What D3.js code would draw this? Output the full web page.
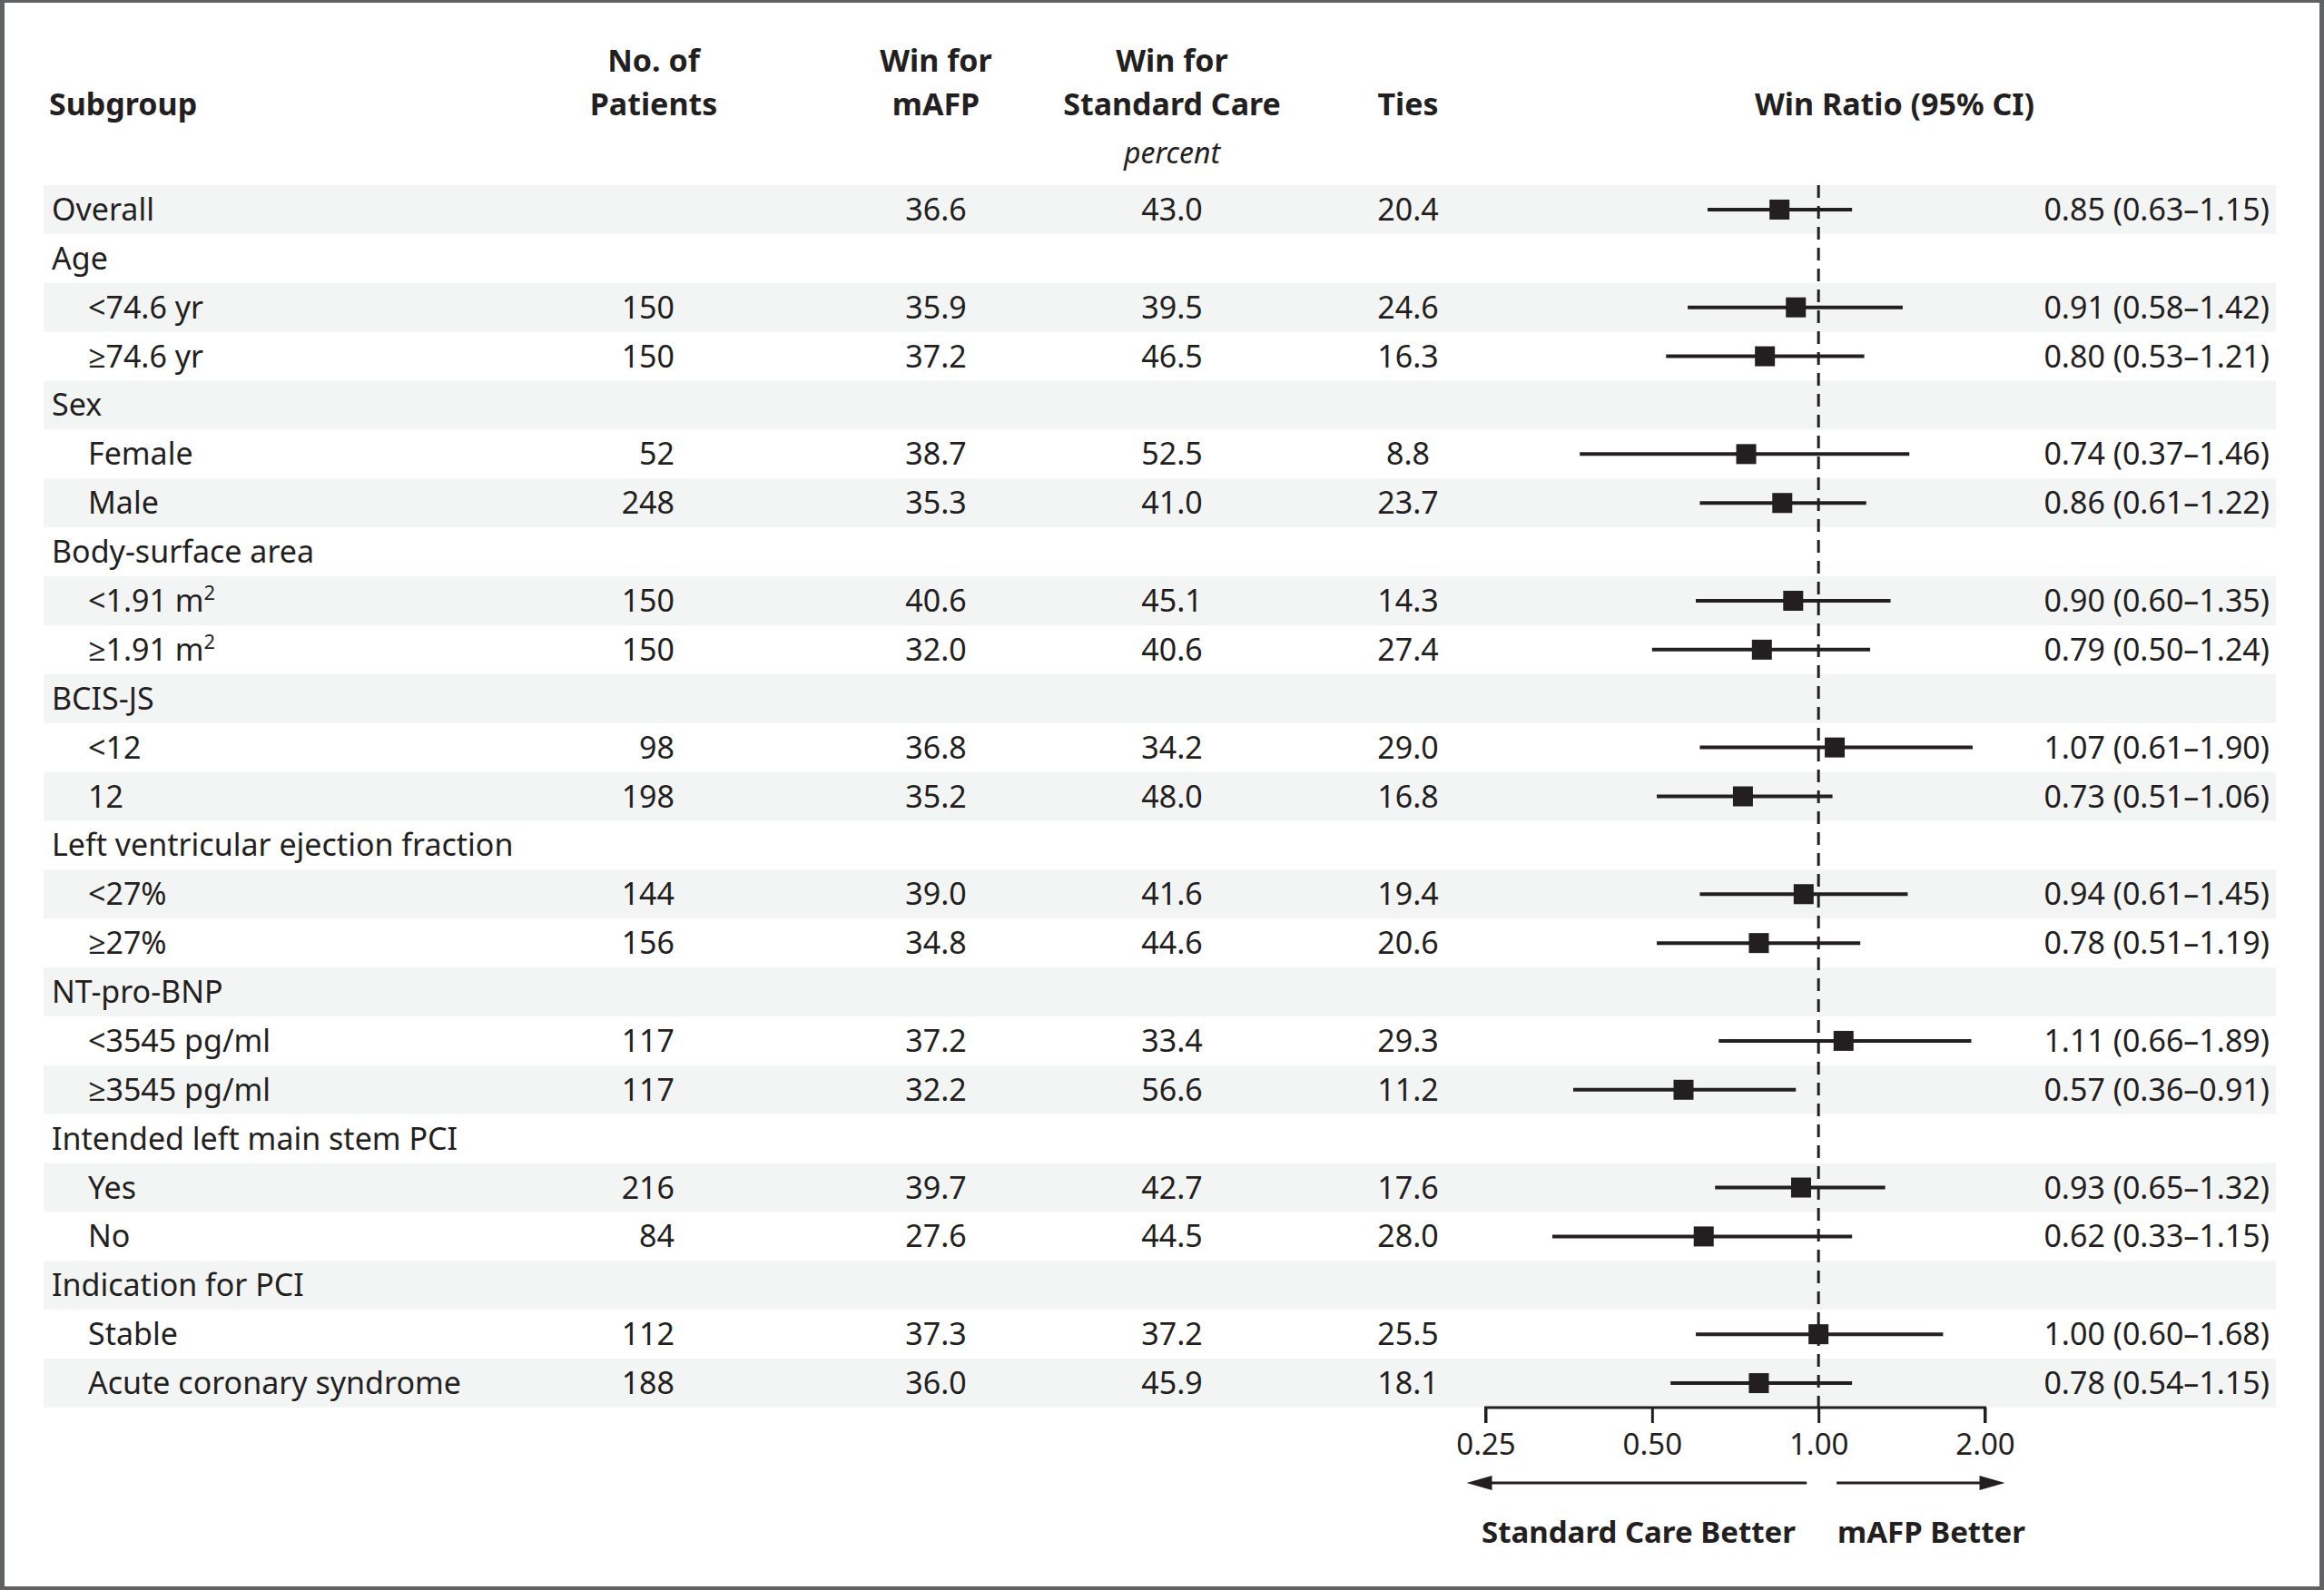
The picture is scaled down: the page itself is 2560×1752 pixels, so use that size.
<!DOCTYPE html>
<html>
<head>
<meta charset="utf-8">
<script src="https://cdn.jsdelivr.net/npm/d3@7"></script>
<style>
  html, body { margin: 0; padding: 0; background: #fff; }
  svg { display: block; }
  text { font-family: "Noto Sans", "Open Sans", sans-serif; fill: #231f20; }
</style>
</head>
<body>
<div id="chart"></div>
<script>
////////////////////////////////////////////////////////////
///////////////////////// Data /////////////////////////////
////////////////////////////////////////////////////////////

// level 0 = group heading, level 1 = indented subgroup
var labels = ["Overall", "Age", "<74.6 yr", "≥74.6 yr", "Sex", "Female", "Male",
  "Body-surface area", "<1.91 m^2", "≥1.91 m^2", "BCIS-JS", "<12", "12",
  "Left ventricular ejection fraction", "<27%", "≥27%", "NT-pro-BNP",
  "<3545 pg/ml", "≥3545 pg/ml", "Intended left main stem PCI", "Yes", "No",
  "Indication for PCI", "Stable", "Acute coronary syndrome"]
var levels = [0, 0, 1, 1, 0, 1, 1, 0, 1, 1, 0, 1, 1, 0, 1, 1, 0, 1, 1, 0, 1, 1, 0, 1, 1]

var patients = ["", "", "150", "150", "", "52", "248", "", "150", "150", "", "98", "198",
  "", "144", "156", "", "117", "117", "", "216", "84", "", "112", "188"]
var winMafp = ["36.6", "", "35.9", "37.2", "", "38.7", "35.3", "", "40.6", "32.0", "", "36.8", "35.2",
  "", "39.0", "34.8", "", "37.2", "32.2", "", "39.7", "27.6", "", "37.3", "36.0"]
var winStd = ["43.0", "", "39.5", "46.5", "", "52.5", "41.0", "", "45.1", "40.6", "", "34.2", "48.0",
  "", "41.6", "44.6", "", "33.4", "56.6", "", "42.7", "44.5", "", "37.2", "45.9"]
var ties = ["20.4", "", "24.6", "16.3", "", "8.8", "23.7", "", "14.3", "27.4", "", "29.0", "16.8",
  "", "19.4", "20.6", "", "29.3", "11.2", "", "17.6", "28.0", "", "25.5", "18.1"]

var winRatio = [0.85, null, 0.91, 0.80, null, 0.74, 0.86, null, 0.90, 0.79, null, 1.07, 0.73,
  null, 0.94, 0.78, null, 1.11, 0.57, null, 0.93, 0.62, null, 1.00, 0.78]
var ciLow = [0.63, null, 0.58, 0.53, null, 0.37, 0.61, null, 0.60, 0.50, null, 0.61, 0.51,
  null, 0.61, 0.51, null, 0.66, 0.36, null, 0.65, 0.33, null, 0.60, 0.54]
var ciHigh = [1.15, null, 1.42, 1.21, null, 1.46, 1.22, null, 1.35, 1.24, null, 1.90, 1.06,
  null, 1.45, 1.19, null, 1.89, 0.91, null, 1.32, 1.15, null, 1.68, 1.15]

var ticks = [0.25, 0.5, 1, 2]

////////////////////////////////////////////////////////////
//////////////////////// Layout ////////////////////////////
////////////////////////////////////////////////////////////

var totalWidth = 2560, totalHeight = 1752
var fontSize = 34, headSize = 34

var svg = d3.select("#chart").append("svg")
  .attr("width", totalWidth)
  .attr("height", totalHeight)

// grey frame
svg.append("rect").attr("width", totalWidth).attr("height", totalHeight).attr("fill", "#606163")
svg.append("rect").attr("x", 5).attr("y", 3).attr("width", 2550).attr("height", 1745).attr("fill", "#fff")

var rows = d3.range(labels.length)

var yScale = d3.scaleBand()
  .domain(rows)
  .range([204, 1551])

var xScale = d3.scaleLog()
  .base(2)
  .domain([0.25, 2])
  .range([1636.5, 2186.5])

var fmt = d3.format(".2f")

////////////////////////////////////////////////////////////
//////////////////////// Bands /////////////////////////////
////////////////////////////////////////////////////////////

svg.append("g").selectAll("rect")
  .data(rows.filter(function(i) { return i % 2 === 0 }))
  .join("rect")
  .attr("x", 48)
  .attr("width", 2507 - 48)
  .attr("y", function(i) { return yScale(i) })
  .attr("height", yScale.bandwidth())
  .attr("fill", "#f3f4f4")

////////////////////////////////////////////////////////////
//////////////////////// Header ////////////////////////////
////////////////////////////////////////////////////////////

var header = svg.append("g").attr("font-weight", "bold").attr("font-size", headSize)
var line1 = 79, line2 = 127

function headText(x, y, txt, anchor) {
  header.append("text").attr("x", x).attr("y", y)
    .attr("text-anchor", anchor || "middle").text(txt)
}
headText(54, line2, "Subgroup", "start")
headText(720, line1, "No. of")
headText(720, line2, "Patients")
headText(1031, line1, "Win for")
headText(1031, line2, "mAFP")
headText(1291, line1, "Win for")
headText(1291, line2, "Standard Care")
headText(1551, line2, "Ties")
headText(2087, line2, "Win Ratio (95% CI)")

svg.append("text")
  .attr("x", 1291).attr("y", 180)
  .attr("text-anchor", "middle")
  .attr("font-size", 32)
  .attr("font-style", "italic")
  .text("percent")

////////////////////////////////////////////////////////////
//////////////////////// Table /////////////////////////////
////////////////////////////////////////////////////////////

var body = svg.append("g").attr("font-size", fontSize)
function baseY(i) { return yScale(i) + yScale.bandwidth() / 2 + 12 }

// subgroup labels with superscripts
body.selectAll("text.label")
  .data(rows)
  .join("text")
  .attr("class", "label")
  .attr("x", function(i) { return levels[i] === 0 ? 57 : 97 })
  .attr("y", baseY)
  .each(function(i) {
    var parts = labels[i].split("^")
    var t = d3.select(this)
    t.append("tspan").text(parts[0])
    if (parts[1]) {
      t.append("tspan").attr("font-size", 22).attr("dy", -13).text(parts[1])
    }
  })

function column(values, x, anchor) {
  body.append("g").selectAll("text")
    .data(rows.filter(function(i) { return values[i] !== "" }))
    .join("text")
    .attr("x", x)
    .attr("y", baseY)
    .attr("text-anchor", anchor)
    .text(function(i) { return values[i] })
}
column(patients, 743, "end")
column(winMafp, 1031, "middle")
column(winStd, 1291, "middle")
column(ties, 1551, "middle")

var ratioRows = rows.filter(function(i) { return winRatio[i] != null })

body.append("g").selectAll("text")
  .data(ratioRows)
  .join("text")
  .attr("x", 2500)
  .attr("y", baseY)
  .attr("text-anchor", "end")
  .text(function(i) { return fmt(winRatio[i]) + " (" + fmt(ciLow[i]) + "–" + fmt(ciHigh[i]) + ")" })

////////////////////////////////////////////////////////////
//////////////////////// Forest ////////////////////////////
////////////////////////////////////////////////////////////

var axisY = 1551

// reference line at 1.00
svg.append("line")
  .attr("x1", xScale(1)).attr("x2", xScale(1))
  .attr("y1", 204).attr("y2", axisY)
  .attr("stroke", "#231f20")
  .attr("stroke-width", 3)
  .attr("stroke-dasharray", "14,9")

var forest = svg.append("g")
function midY(i) { return yScale(i) + yScale.bandwidth() / 2 }

forest.selectAll("line")
  .data(ratioRows)
  .join("line")
  .attr("x1", function(i) { return xScale(ciLow[i]) })
  .attr("x2", function(i) { return xScale(ciHigh[i]) })
  .attr("y1", midY)
  .attr("y2", midY)
  .attr("stroke", "#231f20")
  .attr("stroke-width", 4)

forest.selectAll("rect")
  .data(ratioRows)
  .join("rect")
  .attr("x", function(i) { return xScale(winRatio[i]) - 11 })
  .attr("y", function(i) { return midY(i) - 11 })
  .attr("width", 22)
  .attr("height", 22)
  .attr("fill", "#231f20")

// axis
var axis = svg.append("g")
  .attr("transform", "translate(0," + axisY + ")")
  .call(d3.axisBottom(xScale).tickValues(ticks).tickFormat(fmt).tickSize(17).tickPadding(12))

axis.select(".domain").attr("stroke", "#231f20").attr("stroke-width", 3)
  .attr("d", "M" + xScale(0.25) + ",17V0H" + xScale(2) + "V17")
axis.selectAll(".tick line").attr("stroke", "#231f20").attr("stroke-width", 3)
axis.selectAll(".tick text")
  .attr("font-family", "\"Noto Sans\", \"Open Sans\", sans-serif")
  .attr("font-size", 33)
  .attr("fill", "#231f20")

// direction arrows
var arrowY = 1634
var arrows = svg.append("g").attr("fill", "#231f20")

arrows.append("line")
  .attr("x1", xScale(0.25) - 8).attr("x2", xScale(1) - 13)
  .attr("y1", arrowY).attr("y2", arrowY)
  .attr("stroke", "#231f20").attr("stroke-width", 3)
arrows.append("path")
  .attr("d", "M" + (xScale(0.25) - 21) + "," + arrowY + "l28,-8v16z")

arrows.append("line")
  .attr("x1", xScale(1) + 20).attr("x2", xScale(2) + 10)
  .attr("y1", arrowY).attr("y2", arrowY)
  .attr("stroke", "#231f20").attr("stroke-width", 3)
arrows.append("path")
  .attr("d", "M" + (xScale(2) + 22) + "," + arrowY + "l-28,-8v16z")

svg.append("text")
  .attr("x", 1978).attr("y", 1700)
  .attr("text-anchor", "end")
  .attr("font-weight", "bold")
  .attr("font-size", 33)
  .text("Standard Care Better")

svg.append("text")
  .attr("x", 2024).attr("y", 1700)
  .attr("font-weight", "bold")
  .attr("font-size", 33)
  .text("mAFP Better")
</script>
</body>
</html>
